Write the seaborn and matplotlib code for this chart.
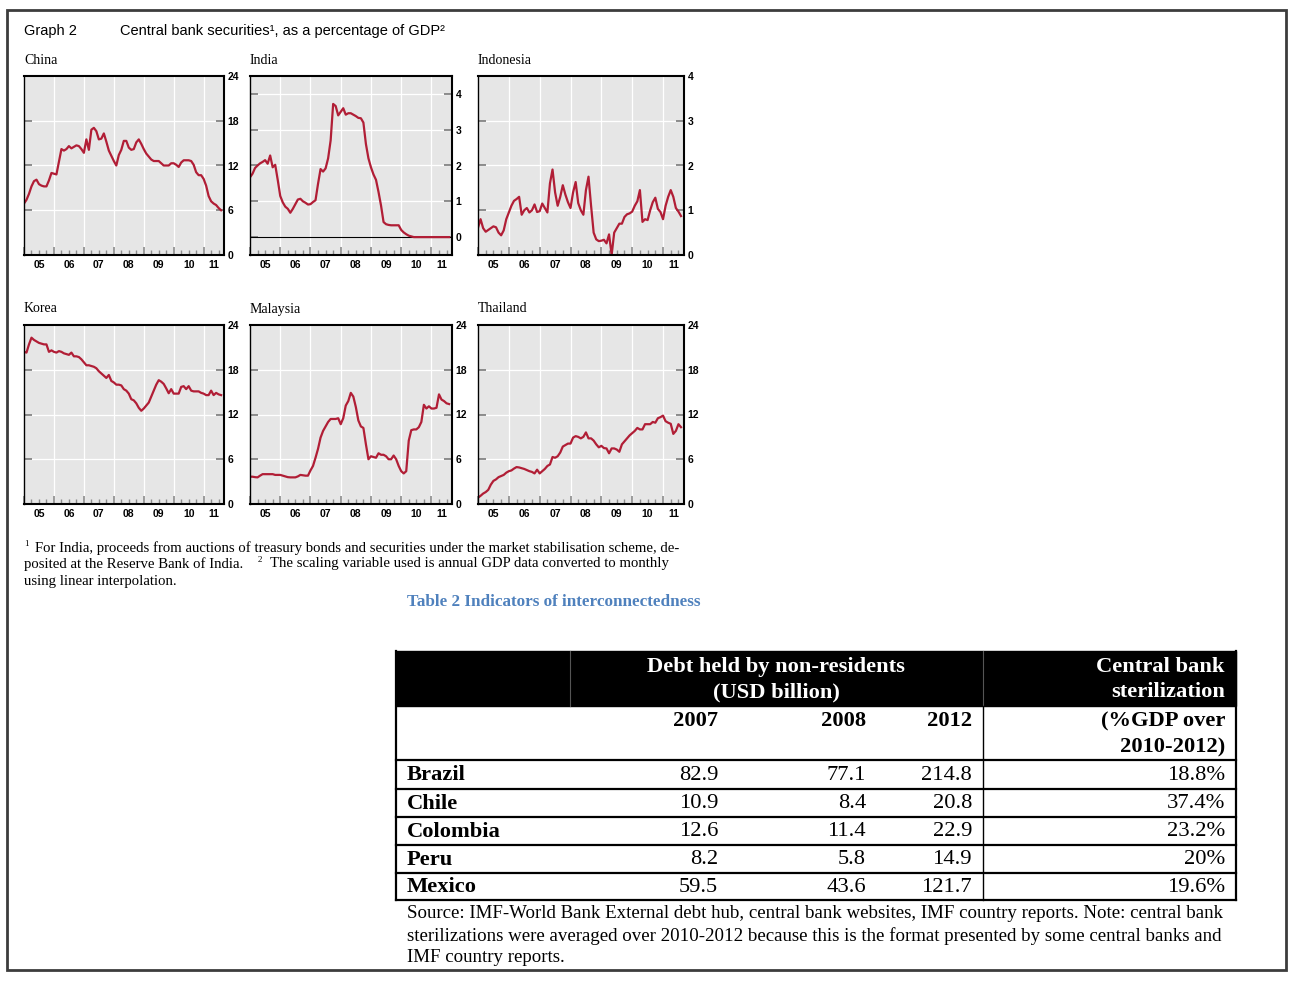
import numpy as np
import pandas as pd
import matplotlib
matplotlib.use("Agg")
import matplotlib.pyplot as plt
import seaborn as sns
from matplotlib.ticker import MultipleLocator
from matplotlib.patches import Rectangle

months = pd.date_range("2005-01-01", periods=80, freq="MS")

china = [6.9, 7.4, 8.2, 9.2, 9.9, 10.1, 9.5, 9.3, 9.2, 9.2, 10.0, 11.0, 10.9, 10.8, 12.5, 14.2,
         14.0, 14.2, 14.6, 14.3, 14.5, 14.7, 14.6, 14.2, 13.7, 15.5, 14.1, 16.8, 17.05, 16.6, 15.5, 15.6,
         16.3, 15.2, 14.0, 13.3, 12.6, 12.0, 13.4, 14.1, 15.3, 15.3, 14.4, 14.1, 14.2, 15.1, 15.5, 14.9,
         14.2, 13.6, 13.2, 12.8, 12.6, 12.6, 12.6, 12.3, 12.0, 12.0, 12.0, 12.3, 12.3, 12.1, 11.8, 12.4,
         12.7, 12.7, 12.7, 12.6, 12.1, 11.1, 10.7, 10.7, 10.2, 9.3, 7.9, 7.2, 6.9, 6.7, 6.3, 6.0]
india = [1.67, 1.77, 1.93, 2.0, 2.06, 2.1, 2.15, 2.05, 2.28, 1.95, 2.02, 1.6, 1.15, 0.97, 0.85, 0.79,
         0.68, 0.79, 0.92, 1.05, 1.07, 1.0, 0.96, 0.91, 0.92, 0.98, 1.03, 1.49, 1.9, 1.83, 1.92, 2.2,
         2.7, 3.72, 3.66, 3.4, 3.5, 3.6, 3.42, 3.46, 3.46, 3.42, 3.38, 3.33, 3.32, 3.2, 2.6, 2.2,
         1.95, 1.75, 1.6, 1.26, 0.88, 0.42, 0.36, 0.34, 0.33, 0.33, 0.33, 0.33, 0.2, 0.13, 0.08, 0.04,
         0.02, 0.0, 0.0, 0.0, 0.0, 0.0, 0.0, 0.0, 0.0, 0.0, 0.0, 0.0, 0.0, 0.0, 0.0, 0.0]
indonesia = [0.61, 0.8, 0.6, 0.52, 0.56, 0.6, 0.64, 0.62, 0.5, 0.44, 0.55, 0.8, 0.95, 1.1, 1.21, 1.25,
             1.3, 0.9, 1.0, 1.05, 0.95, 1.0, 1.13, 0.96, 0.98, 1.15, 1.05, 0.95, 1.6, 1.91, 1.4, 1.1,
             1.3, 1.56, 1.35, 1.18, 1.05, 1.4, 1.63, 1.16, 1.0, 0.9, 1.45, 1.75, 1.1, 0.5, 0.35, 0.31,
             0.32, 0.34, 0.26, 0.46, 0.0, 0.5, 0.6, 0.7, 0.7, 0.85, 0.91, 0.93, 0.97, 1.1, 1.2, 1.45,
             0.74, 0.8, 0.78, 1.0, 1.18, 1.28, 1.03, 0.96, 0.8, 1.1, 1.3, 1.45, 1.3, 1.05, 0.97, 0.87]
korea = [20.4, 20.3, 21.4, 22.3, 22.0, 21.8, 21.6, 21.5, 21.4, 21.4, 20.4, 20.6, 20.4, 20.3, 20.5, 20.4,
         20.2, 20.1, 20.0, 20.3, 19.8, 19.8, 19.7, 19.4, 19.0, 18.6, 18.6, 18.5, 18.4, 18.2, 17.8, 17.5,
         17.2, 16.9, 17.3, 16.5, 16.3, 16.0, 16.0, 15.9, 15.4, 15.2, 14.8, 14.05, 13.9, 13.5, 12.9, 12.5,
         12.8, 13.2, 13.6, 14.4, 15.2, 16.0, 16.6, 16.4, 16.1, 15.5, 14.85, 15.4, 14.8, 14.8, 14.8, 15.7,
         15.8, 15.4, 15.8, 15.2, 15.1, 15.1, 15.1, 14.9, 14.8, 14.6, 14.6, 15.2, 14.6, 14.9, 14.7, 14.6]
malaysia = [3.66, 3.66, 3.6, 3.57, 3.8, 4.0, 4.0, 4.0, 4.0, 4.0, 3.9, 3.9, 3.9, 3.8, 3.7, 3.6,
            3.57, 3.57, 3.57, 3.7, 3.9, 3.85, 3.8, 3.8, 4.5, 5.1, 6.2, 7.4, 8.9, 9.8, 10.4, 11.0,
            11.4, 11.4, 11.4, 11.5, 10.7, 11.5, 13.2, 13.8, 14.9, 14.4, 13.0, 11.2, 10.4, 10.2, 8.0, 6.0,
            6.4, 6.3, 6.2, 6.8, 6.6, 6.6, 6.4, 6.0, 6.0, 6.5, 6.0, 5.1, 4.4, 4.1, 4.4, 8.5,
            9.9, 10.0, 10.0, 10.3, 11.0, 13.3, 12.8, 13.1, 12.8, 12.8, 12.9, 14.7, 14.0, 13.8, 13.5, 13.4]
thailand = [0.85, 1.1, 1.4, 1.6, 1.9, 2.6, 3.1, 3.3, 3.6, 3.75, 3.9, 4.2, 4.4, 4.5, 4.75, 4.95,
            4.9, 4.8, 4.7, 4.55, 4.4, 4.3, 4.1, 4.6, 4.1, 4.4, 4.7, 5.1, 5.3, 6.3, 6.2, 6.4,
            6.9, 7.7, 7.9, 8.1, 8.1, 8.9, 9.1, 9.0, 8.8, 9.0, 9.6, 8.8, 8.8, 8.5, 8.0, 7.6,
            7.8, 7.5, 7.45, 6.8, 7.45, 7.45, 7.3, 7.0, 8.0, 8.4, 8.8, 9.2, 9.5, 9.8, 10.2, 10.0,
            10.0, 10.7, 10.7, 10.7, 11.0, 10.9, 11.5, 11.65, 11.85, 11.1, 10.9, 10.75, 9.4, 9.8, 10.7, 10.3]

countries = ["China", "India", "Indonesia", "Korea", "Malaysia", "Thailand"]
series = [china, india, indonesia, korea, malaysia, thailand]
year_labels = ["05", "06", "07", "08", "09", "10", "11"]

# table data
table_rows = ["Brazil", "Chile", "Colombia", "Peru", "Mexico"]
debt_2007 = ["82.9", "10.9", "12.6", "8.2", "59.5"]
debt_2008 = ["77.1", "8.4", "11.4", "5.8", "43.6"]
debt_2012 = ["214.8", "20.8", "22.9", "14.9", "121.7"]
sterilization = ["18.8%", "37.4%", "23.2%", "20%", "19.6%"]

frames = []
for name, vals in zip(countries, series):
    frames.append(pd.DataFrame({"t": months.year + (months.month - 1) / 12.0,
                                "value": vals, "country": name}))
df = pd.concat(frames, ignore_index=True)

SERIF = "Liberation Serif"
SANS = "Liberation Sans"
W, H = 1298, 981
LINE = "#b11e36"

fig = plt.figure(figsize=(W / 100, H / 100), dpi=100)
fig.patch.set_facecolor("white")

# overlay for frame, text and the table (pixel coordinates)
ov = fig.add_axes([0, 0, 1, 1])
ov.set_xlim(0, W)
ov.set_ylim(H, 0)
ov.axis("off")


def px_axes(x0, y0, x1, y1):
    return fig.add_axes([x0 / W, 1 - y1 / H, (x1 - x0) / W, (y1 - y0) / H])


boxes = {"China": (24, 76, 224, 255), "India": (250, 76, 452, 255), "Indonesia": (478, 76, 684, 255),
         "Korea": (24, 325, 224, 504), "Malaysia": (250, 325, 452, 504), "Thailand": (478, 325, 684, 504)}
XMIN, XMAX = 2005.0, 2011.68

for name in countries:
    x0, y0, x1, y1 = boxes[name]
    ax = px_axes(x0, y0, x1, y1)
    ax.set_facecolor("#e6e6e6")
    sub = df[df["country"] == name]
    sns.lineplot(data=sub, x="t", y="value", ax=ax, color=LINE, linewidth=1.6, zorder=4)
    ax.set_xlim(XMIN, XMAX)
    if name == "India":
        ax.set_ylim(-0.5, 4.5)
        ax.set_yticks([0, 1, 2, 3, 4])
        ax.axhline(0, color="black", lw=0.8, zorder=3)
    elif name == "Indonesia":
        ax.set_ylim(0, 4)
        ax.set_yticks([0, 1, 2, 3, 4])
    else:
        ax.set_ylim(0, 24)
        ax.set_yticks([0, 6, 12, 18, 24])
    ax.xaxis.set_major_locator(MultipleLocator(1))
    ax.xaxis.set_minor_locator(MultipleLocator(0.25))
    ax.grid(True, which="major", color="white", lw=0.9, zorder=1)
    ax.set_axisbelow(True)
    ax.tick_params(axis="x", which="major", direction="in", length=6, width=1.2,
                   color="#8c8c8c", labelbottom=False)
    ax.tick_params(axis="x", which="minor", direction="in", length=3.5, width=1.0,
                   color="#8c8c8c")
    ax.tick_params(axis="y", which="major", direction="in", length=6, width=1.2, color="#7a7a7a",
                   left=True, right=True, labelleft=False, labelright=True, pad=2.5,
                   labelsize=7.5)
    for lbl in ax.get_yticklabels():
        lbl.set_fontweight("bold")
        lbl.set_fontfamily(SANS)
    ax.set_xlabel("")
    ax.set_ylabel("")
    for side, sp in ax.spines.items():
        sp.set_color("black")
        sp.set_linewidth(1.0 if side == "left" else 1.5)
        sp.set_zorder(5)
    # year labels centred in the visible part of each year
    for i, lab in enumerate(year_labels):
        ys = 2005 + i
        c = (max(ys, XMIN) + min(ys + 1, XMAX)) / 2
        ax.text(c, -0.03, lab, transform=ax.get_xaxis_transform(), ha="center", va="top",
                fontsize=7.5, fontweight="bold", family=SANS)
    ov.text(x0, y0 - 16, name, ha="left", va="center", fontsize=10, family=SERIF)

# outer frame
ov.add_patch(Rectangle((7, 10), 1279, 960, fill=False, ec="#3c3c3c", lw=2))

# header
ov.text(24, 31, "Graph 2", ha="left", va="center", fontsize=10.5, family=SANS)
ov.text(120, 31, "Central bank securities\u00b9, as a percentage of GDP\u00b2", ha="left", va="center",
        fontsize=10.5, family=SANS)

# footnotes
fn = dict(ha="left", va="center", fontsize=10.6, family=SERIF)
ov.text(24, 544, "1", fontsize=6.5, family=SERIF, ha="left", va="center")
ov.text(35, 548, "For India, proceeds from auctions of treasury bonds and securities under the market "
        "stabilisation scheme, de-", **fn)
ov.text(24, 564, "posited at the Reserve Bank of India.", **fn)
ov.text(258, 560, "2", fontsize=6.5, family=SERIF, ha="left", va="center")
ov.text(270, 564, "The scaling variable used is annual GDP data converted to monthly", **fn)
ov.text(24, 581, "using linear interpolation.", **fn)

ov.text(554, 602, "Table 2 Indicators of interconnectedness", ha="center", va="center", fontsize=12.3,
        fontweight="bold", family=SERIF, color="#4f81bd")

# table
TL, TR = 396, 1236
ov.add_patch(Rectangle((TL, 651), TR - TL, 55, fc="black", ec="black", lw=1))
ov.plot([570, 570], [651, 706], color="#555555", lw=0.8)
ov.plot([983, 983], [651, 706], color="#555555", lw=0.8)
ts = 16.2
ov.text(776, 667, "Debt held by non-residents", ha="center", va="center", fontsize=ts,
        fontweight="bold", family=SERIF, color="white")
ov.text(776, 692, "(USD billion)", ha="center", va="center", fontsize=ts,
        fontweight="bold", family=SERIF, color="white")
ov.text(1225, 667, "Central bank", ha="right", va="center", fontsize=ts,
        fontweight="bold", family=SERIF, color="white")
ov.text(1225, 692, "sterilization", ha="right", va="center", fontsize=ts,
        fontweight="bold", family=SERIF, color="white")

col_x = [718, 866, 972]
for cx, yr in zip(col_x, ["2007", "2008", "2012"]):
    ov.text(cx, 721, yr, ha="right", va="center", fontsize=ts, fontweight="bold", family=SERIF)
ov.text(1225, 721, "(%GDP over", ha="right", va="center", fontsize=ts, fontweight="bold", family=SERIF)
ov.text(1225, 747, "2010-2012)", ha="right", va="center", fontsize=ts, fontweight="bold", family=SERIF)

row_tops = [760, 789, 817, 845, 873, 900]
for yl in row_tops:
    ov.plot([TL, TR], [yl, yl], color="black", lw=1.6)
ov.plot([TL, TL], [651, 900], color="black", lw=1.6)
ov.plot([TR, TR], [651, 900], color="black", lw=1.6)
ov.plot([983, 983], [706, 900], color="black", lw=1.0)
for i, r in enumerate(table_rows):
    yc = (row_tops[i] + row_tops[i + 1]) / 2 + 1
    ov.text(407, yc, r, ha="left", va="center", fontsize=ts, fontweight="bold", family=SERIF)
    for cx, v in zip(col_x + [1225], [debt_2007[i], debt_2008[i], debt_2012[i], sterilization[i]]):
        ov.text(cx, yc, v, ha="right", va="center", fontsize=ts, family=SERIF)

src = dict(ha="left", va="center", fontsize=13.6, family=SERIF)
ov.text(407, 914, "Source: IMF-World Bank External debt hub, central bank websites, IMF country reports. "
        "Note: central bank", **src)
ov.text(407, 936, "sterilizations were averaged over 2010-2012 because this is the format presented by "
        "some central banks and", **src)
ov.text(407, 957, "IMF country reports.", **src)

fig.savefig("out.png", dpi=100)
